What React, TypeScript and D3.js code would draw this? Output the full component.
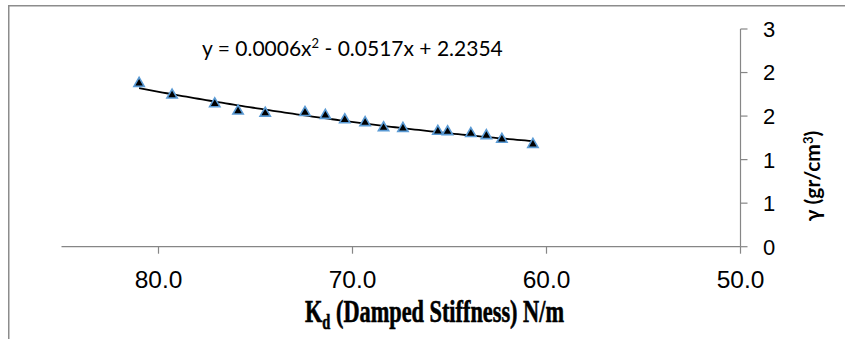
import React from "react";
import * as d3 from "d3";

const stiffness = [81.0, 79.3, 77.1, 75.9, 74.5, 72.45, 71.4, 70.4, 69.35, 68.4, 67.4, 65.6, 65.1, 63.9, 63.1, 62.3, 60.7];
const density = [2.25, 2.09, 1.97, 1.87, 1.84, 1.85, 1.81, 1.75, 1.71, 1.64, 1.63, 1.59, 1.585, 1.56, 1.53, 1.48, 1.41];
const xTicks = [80, 70, 60, 50];
const yTicks = [0, 0.6, 1.2, 1.8, 2.4, 3.0];
const yTickLabels = ["0", "1", "1", "2", "2", "3"];
const equationParts = ["y = 0.0006x", "2", " - 0.0517x + 2.2354"];

function quadFit(xs: number[], ys: number[]) {
  const n = xs.length;
  let s1 = 0, s2 = 0, s3 = 0, s4 = 0, t0 = 0, t1 = 0, t2 = 0;
  for (let i = 0; i < n; i++) {
    const x = xs[i], y = ys[i];
    s1 += x; s2 += x * x; s3 += x ** 3; s4 += x ** 4;
    t0 += y; t1 += x * y; t2 += x * x * y;
  }
  const M = [
    [s4, s3, s2, t2],
    [s3, s2, s1, t1],
    [s2, s1, n, t0],
  ];
  for (let i = 0; i < 3; i++) {
    let p = i;
    for (let r = i + 1; r < 3; r++) if (Math.abs(M[r][i]) > Math.abs(M[p][i])) p = r;
    [M[i], M[p]] = [M[p], M[i]];
    for (let r = 0; r < 3; r++) {
      if (r === i) continue;
      const f = M[r][i] / M[i][i];
      for (let c = i; c < 4; c++) M[r][c] -= f * M[i][c];
    }
  }
  return [M[0][3] / M[0][0], M[1][3] / M[1][1], M[2][3] / M[2][2]];
}

export default function App() {
  const W = 845, H = 339;
  const x = d3.scaleLinear().domain([85, 50]).range([61.5, 740.5]);
  const y = d3.scaleLinear().domain([0, 3]).range([246.7, 29]);
  const [a, b, c] = quadFit(stiffness, density);
  const xmin = d3.min(stiffness)!, xmax = d3.max(stiffness)!;
  const trendX = d3.range(0, 101).map((i) => xmin + ((xmax - xmin) * i) / 100);
  const line = d3.line<number>().x((v) => x(v)).y((v) => y(a * v * v + b * v + c));
  const tri = d3.symbol().type(d3.symbolTriangle).size(46)()!;
  const axisColor = "#868686";
  const sans = "'Liberation Sans', Arial, sans-serif";
  const cal = "Lato, 'Open Sans', sans-serif";

  return (
    <svg width={W} height={H} style={{ position: "absolute", left: 0, top: 0, background: "#fff" }}>
      <rect x={0} y={0} width={W} height={H} fill="#fff" />
      <path d={`M8.75,${H} V5.75 H${W}`} fill="none" stroke="#8c8c8c" strokeWidth={1.5} />
      <line x1={x(85)} x2={x(50)} y1={y(0)} y2={y(0)} stroke={axisColor} strokeWidth={1.2} />
      {xTicks.map((t) => (
        <g key={t}>
          <line x1={x(t)} x2={x(t)} y1={y(0)} y2={y(0) + 7} stroke={axisColor} strokeWidth={1.2} />
          <text x={x(t)} y={288} textAnchor="middle" fontFamily={sans} fontSize={24.5} fill="#000">
            {d3.format(".1f")(t)}
          </text>
        </g>
      ))}
      <line x1={x(50)} x2={x(50)} y1={y(3)} y2={y(0)} stroke={axisColor} strokeWidth={1.2} />
      {yTicks.map((t, i) => (
        <g key={i}>
          <line x1={x(50)} x2={x(50) + 7} y1={y(t)} y2={y(t)} stroke={axisColor} strokeWidth={1.2} />
          <text x={763} y={y(t)} dy="0.36em" fontFamily={sans} fontSize={22} fill="#000">
            {yTickLabels[i]}
          </text>
        </g>
      ))}
      <path d={line(trendX)!} fill="none" stroke="#000" strokeWidth={1.8} />
      {stiffness.map((s, i) => (
        <path
          key={i}
          d={tri}
          transform={`translate(${x(s)},${y(density[i])})`}
          fill="#000"
          stroke="#5b9bd5"
          strokeWidth={1.6}
        />
      ))}
      <text x={202} y={56} fontFamily={cal} fontSize={21} fill="#000">
        {equationParts[0]}
        <tspan dy={-8} fontSize={13}>{equationParts[1]}</tspan>
        <tspan dy={8}>{equationParts[2]}</tspan>
      </text>
      <g transform="translate(305,322) scale(0.72,1)">
        <text x={0} y={0} fontFamily="'Liberation Serif', 'Times New Roman', serif" fontWeight="bold" fontSize={31} fill="#000" stroke="#000" strokeWidth={0.6}>
          K<tspan dy={7} fontSize={20}>d</tspan>
          <tspan dy={-7}> (Damped Stiffness) N/m</tspan>
        </text>
      </g>
      <text
        transform="translate(820,176) rotate(-90)"
        textAnchor="middle"
        fontFamily={cal}
        fontWeight="bold"
        fontSize={21}
        fill="#000"
      >
        γ (gr/cm<tspan dy={-7} fontSize={13}>3</tspan><tspan dy={7}>)</tspan>
      </text>
    </svg>
  );
}
